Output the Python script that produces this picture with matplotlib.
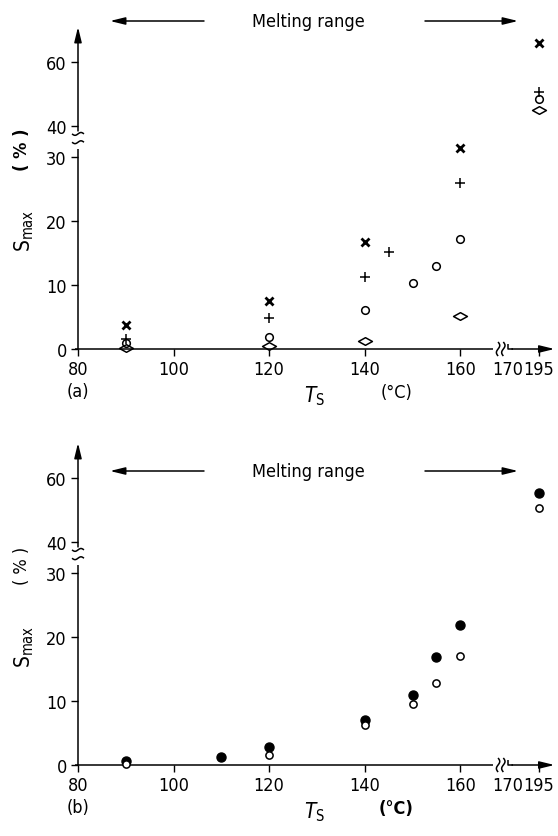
import numpy as np
import matplotlib
matplotlib.use("Agg")
import matplotlib.pyplot as plt
from matplotlib.path import Path

# ---- data (T_S in degC, S_max in %) ----
# panel (a)
A_CROSS_T = [90, 120, 140, 160, 195]
A_CROSS_S = [3.8, 7.5, 16.7, 31.4, 66.0]
A_PLUS_T = [90, 120, 140, 145, 160, 195]
A_PLUS_S = [1.6, 4.9, 11.2, 15.1, 26.0, 50.8]
A_CIRC_T = [90, 120, 140, 150, 155, 160, 195]
A_CIRC_S = [1.0, 1.9, 6.1, 10.3, 13.0, 17.2, 48.5]
A_DIAM_T = [90, 120, 140, 160, 195]
A_DIAM_S = [0.2, 0.4, 1.3, 5.1, 45.1]
# panel (b)
B_FILL_T = [90, 110, 120, 140, 150, 155, 160, 195]
B_FILL_S = [0.6, 1.3, 2.8, 7.1, 11.0, 16.9, 21.8, 55.4]
B_OPEN_T = [90, 120, 140, 150, 155, 160, 195]
B_OPEN_S = [0.2, 1.6, 6.3, 9.6, 12.8, 17.0, 50.6]

X_TICKS = [80, 100, 120, 140, 160, 170, 195]
Y_TICKS = [0, 10, 20, 30, 40, 60]

plt.rcParams["font.family"] = "DejaVu Sans"
plt.rcParams["font.stretch"] = "condensed"
plt.rcParams["mathtext.fontset"] = "dejavusans"

# broken axes: compress T above 170 and S above 32
XB = ([0, 170, 400], [0, 170, 170 + 230 * 0.256])
YB = ([-100, 32, 40, 300], [-100, 32, 34.8, 34.8 + 260 * 0.5])
fwd_x = lambda v: np.interp(v, *XB)
inv_x = lambda v: np.interp(v, XB[1], XB[0])
fwd_y = lambda v: np.interp(v, *YB)
inv_y = lambda v: np.interp(v, YB[1], YB[0])

W, H = 558, 837
DIAMOND = Path([(-1, 0), (0, 0.55), (1, 0), (0, -0.55), (-1, 0)],
               [Path.MOVETO, Path.LINETO, Path.LINETO, Path.LINETO, Path.CLOSEPOLY])
ARROW = dict(arrowstyle="-|>,head_length=0.9,head_width=0.22", lw=1.1, color="k",
             shrinkA=0, shrinkB=0)

fig = plt.figure(figsize=(W / 100, H / 100), dpi=100)


def fx(x, y):
    return x / W, 1 - y / H


def panel(y0, y_melt, tag, pct, pct_bold, degc_bold):
    ax = fig.add_axes([78 / W, 1 - y0 / H, 476.6 / W, 322 / H])
    ax.set_xscale("function", functions=(fwd_x, inv_x))
    ax.set_yscale("function", functions=(fwd_y, inv_y))
    ax.set_xlim(80, 208); ax.set_ylim(0, 71)
    for s in ax.spines.values():
        s.set_visible(False)
    ax.set_xticks(X_TICKS); ax.set_yticks(Y_TICKS)
    ax.set_xticklabels([str(v) for v in X_TICKS])
    ax.set_yticklabels([str(v) for v in Y_TICKS])
    ax.tick_params(length=5, width=1, labelsize=13, pad=3)
    ax.xaxis.get_major_ticks()[5].tick1line.set_visible(False)
    ax.patch.set_visible(False)

    tt = ax.transLimits + ax.transAxes   # transformed (scaled) coords -> display
    k = dict(color="k", lw=1.1, transform=tt, clip_on=False, solid_capstyle="butt")
    # x axis with break
    ax.plot([79.3, 166.8], [0, 0], **k)
    ax.plot([170, 170, 171], [0.8, 0, 0], **k)
    ax.annotate("", xy=(179.7, 0), xytext=(170.8, 0), xycoords=tt, arrowprops=ARROW,
                annotation_clip=False)
    t = np.linspace(-1, 1, 30)
    for xc in (167.9, 169.0):
        ax.plot(xc + 0.35 * np.sin(np.pi * t), 1.1 * t, **k)
    # y axis with break
    ax.plot([80, 80], [0, 31.25], **k)
    ax.annotate("", xy=(80, 50.3), xytext=(80, 34.06), xycoords=tt, arrowprops=ARROW,
                annotation_clip=False)
    for yc in (32.3, 33.6):
        ax.plot(80 + 1.25 * t, yc + 0.22 * np.sin(np.pi * t), **k)

    # melting range
    fig.text(*fx(308, y_melt), "Melting range", ha="center", va="center", size=13)
    ay = 1 - y_melt / H
    ax.annotate("", xy=(110 / W, ay), xytext=(204 / W, ay), xycoords="figure fraction",
                arrowprops=ARROW)
    ax.annotate("", xy=(518 / W, ay), xytext=(425 / W, ay), xycoords="figure fraction",
                arrowprops=ARROW)

    # labels
    fig.text(*fx(78, y0 + 42), tag, ha="center", va="center", size=13)
    fig.text(*fx(315, y0 + 46), r"$T_{\mathrm{S}}$", ha="center", va="center", size=15)
    fig.text(*fx(396, y0 + 43), "(°C)", ha="center", va="center", size=13,
             weight="bold" if degc_bold else "normal")
    fig.text(*fx(24, y0 - 119), r"$\mathrm{S}_{\mathrm{max}}$", rotation=90,
             ha="center", va="center", size=15)
    fig.text(*fx(22, y0 - 200), pct, rotation=90, ha="center", va="center", size=13,
             weight="bold" if pct_bold else "normal")
    return ax


ax = panel(350, 22, "(a)", "( % )", True, False)
mk = dict(ls="none", color="k", clip_on=False, zorder=3)
ax.plot(A_CROSS_T, A_CROSS_S, marker="x", ms=5.8, mew=2.0, **mk)
ax.plot(A_PLUS_T, A_PLUS_S, marker="+", ms=7, mew=1.1, **mk)
ax.plot(A_CIRC_T, A_CIRC_S, marker="o", ms=5.5, mew=1.1, mfc="none", **mk)
ax.plot(A_DIAM_T, A_DIAM_S, marker=DIAMOND, ms=10, mew=1.1, mfc="none", **mk)

ax = panel(766, 472, "(b)", "( % )", False, True)
ax.plot(B_FILL_T, B_FILL_S, marker="o", ms=6.5, mew=1, **mk)
ax.plot(B_OPEN_T, B_OPEN_S, marker="o", ms=5.2, mew=1.1, mfc="white", **mk)

fig.savefig("out.png", dpi=100)
